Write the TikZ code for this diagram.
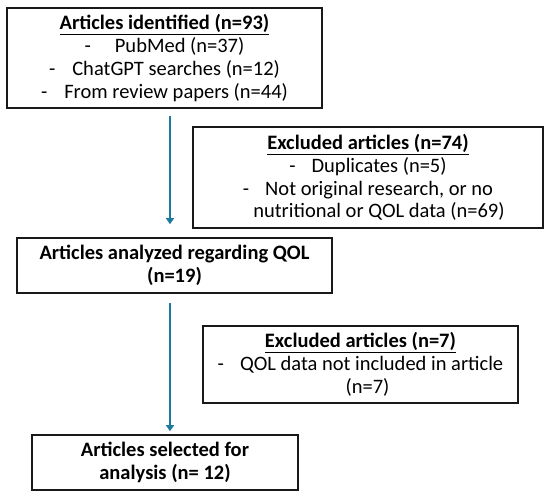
\documentclass[tikz,border=0pt]{standalone}
\usepackage{fontspec}
\setmainfont{Carlito}
\usepackage{xcolor}
\usetikzlibrary{arrows.meta, positioning}
\definecolor{flowteal}{RGB}{28, 122, 158}
\definecolor{boxblack}{RGB}{25, 25, 25}

\begin{document}
\begin{tikzpicture}[
    x=1pt, y=-1pt,
    box/.style={rectangle, draw=boxblack, line width=1.6pt, fill=white,
                align=center, inner sep=0pt, font=\fontsize{20.5}{22.8}\selectfont},
    stage/.style={box, font=\fontsize{20.5}{22.8}\selectfont\bfseries},
    flow/.style={-{Triangle[length=6pt, width=8pt]}, line width=1.4pt, flowteal}
]
\useasboundingbox (0,0) rectangle (550,497);

%% -- Boxes ---------------------------------------------------------------
\node[box, minimum width=315pt, minimum height=100pt] (ident) at (164.5, 58)
     {\textbf{\underline{Articles identified (n=93)}}\\
      -\hspace{24pt}PubMed (n=37)\\
      -\hspace{17pt}ChatGPT searches (n=12)\\
      -\hspace{17pt}From review papers (n=44)};

\node[box, minimum width=350pt, minimum height=101pt] (excla) at (368, 177.5)
     {\textbf{\underline{Excluded articles (n=74)}}\\
      -\hspace{16pt}Duplicates (n=5)\\
      -\hspace{16pt}Not original research, or no\\
      \hspace{22pt}nutritional or QOL data (n=69)};

\node[stage, minimum width=315pt, minimum height=55pt] (anal) at (174.5, 265.5)
     {Articles analyzed regarding QOL\\(n=19)};

\node[box, minimum width=315pt, minimum height=77pt] (exclb) at (360.5, 364.5)
     {\textbf{\underline{Excluded articles (n=7)}}\\
      -\hspace{16pt}QOL data not included in article\\
      \hspace{14pt}(n=7)};

\node[stage, minimum width=266pt, minimum height=55pt] (sel) at (165, 462.5)
     {Articles selected for\\analysis (n= 12)};

%% -- Flow ----------------------------------------------------------------
\coordinate (spine) at (170, 0);
\draw[flow, shorten <=7pt, shorten >=13pt] (ident.south -| spine) -- (anal.north -| spine);
\draw[flow, shorten <=9pt, shorten >=3pt] (anal.south -| spine) -- (sel.north -| spine);

\end{tikzpicture}
\end{document}
